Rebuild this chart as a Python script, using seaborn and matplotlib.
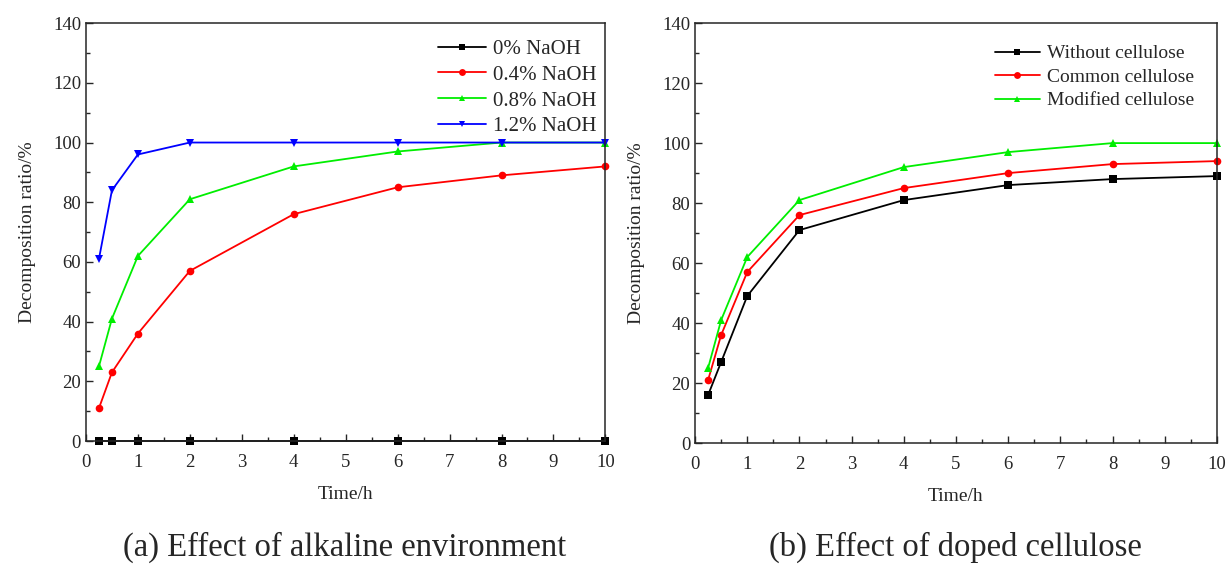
import numpy as np
import pandas as pd
import seaborn as sns
import matplotlib.pyplot as plt
from matplotlib.ticker import MultipleLocator

# %% data
time_h = [0.25, 0.5, 1, 2, 4, 6, 8, 10]

naoh_labels = ['0% NaOH', '0.4% NaOH', '0.8% NaOH', '1.2% NaOH']
naoh_0 = [0, 0, 0, 0, 0, 0, 0, 0]
naoh_04 = [11, 23, 36, 57, 76, 85, 89, 92]
naoh_08 = [25, 41, 62, 81, 92, 97, 100, 100]
naoh_12 = [61, 84, 96, 100, 100, 100, 100, 100]

cell_labels = ['Without cellulose', 'Common cellulose', 'Modified cellulose']
cell_none = [16, 27, 49, 71, 81, 86, 88, 89]
cell_common = [21, 36, 57, 76, 85, 90, 93, 94]
cell_modified = [25, 41, 62, 81, 92, 97, 100, 100]

# %% long frames
df_a = pd.concat([pd.DataFrame({'Time': time_h, 'Ratio': v, 'Group': lab})
                  for lab, v in zip(naoh_labels, [naoh_0, naoh_04, naoh_08, naoh_12])])
df_b = pd.concat([pd.DataFrame({'Time': time_h, 'Ratio': v, 'Group': lab})
                  for lab, v in zip(cell_labels, [cell_none, cell_common, cell_modified])])

# %% style
sns.set_style('ticks')
plt.rcParams['font.family'] = ['Liberation Serif', 'DejaVu Serif']
plt.rcParams['xtick.direction'] = 'in'
plt.rcParams['ytick.direction'] = 'in'

fig = plt.figure(figsize=(12.28, 5.64), dpi=100)
ax1 = fig.add_axes([0.070, 0.218, 0.423, 0.741])
ax2 = fig.add_axes([0.566, 0.2145, 0.425, 0.7445])

pal_a = ['black', 'red', '#00ee00', 'blue']
mk_a = ['s', 'o', '^', 'v']
pal_b = ['black', 'red', '#00ee00']
mk_b = ['s', 'o', '^']

sns.lineplot(data=df_a, x='Time', y='Ratio', hue='Group', style='Group',
             palette=pal_a, markers=mk_a, dashes=False, markersize=5.5,
             markeredgewidth=0, linewidth=1.3, ax=ax1)
sns.lineplot(data=df_b, x='Time', y='Ratio', hue='Group', style='Group',
             palette=pal_b, markers=mk_b, dashes=False, markersize=5.5,
             markeredgewidth=0, linewidth=1.3, ax=ax2)

for ax in (ax1, ax2):
    ax.set_xlim(0, 10)
    ax.set_ylim(0, 140)
    ax.xaxis.set_major_locator(MultipleLocator(1))
    ax.xaxis.set_minor_locator(MultipleLocator(0.5))
    ax.yaxis.set_major_locator(MultipleLocator(20))
    ax.yaxis.set_minor_locator(MultipleLocator(10))
    ax.tick_params(which='major', length=5, width=1, labelsize=13.5)
    ax.tick_params(axis='x', which='major', pad=9)
    ax.tick_params(which='minor', length=3, width=1)
    for s in ax.spines.values():
        s.set_linewidth(1.1)
    ax.set_xlabel('Time/h', fontsize=14, labelpad=11)
    ax.set_ylabel('Decomposition ratio/%', fontsize=14, labelpad=12)
    for ln in ax.lines:
        ln.set_clip_on(False)

ax1.legend(loc='upper right', frameon=False, fontsize=15, handlelength=2.3,
           labelspacing=0.3, bbox_to_anchor=(1.02, 1.006), handletextpad=0.35,
           markerscale=0.9)
ax2.legend(loc='upper right', frameon=False, fontsize=14, handlelength=2.3,
           labelspacing=0.3, bbox_to_anchor=(0.989, 0.99), handletextpad=0.35,
           markerscale=0.9)

fig.text(0.281, 0.015, '(a) Effect of alkaline environment', ha='center', fontsize=23.5)
fig.text(0.778, 0.015, '(b) Effect of doped cellulose', ha='center', fontsize=23.5)

fig.savefig('out.png', dpi=100)
